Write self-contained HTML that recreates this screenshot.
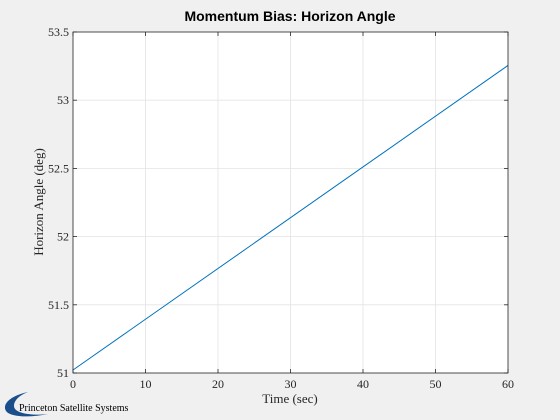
<!DOCTYPE html>
<html><head><meta charset="utf-8"><style>
body{margin:0;background:#f0f0f0;}
svg{display:block;}
.serif{font-family:"Liberation Serif",serif;}
</style></head><body>
<svg id="chart" width="560" height="420" xmlns="http://www.w3.org/2000/svg">
<rect x="0" y="0" width="560" height="420" fill="#f0f0f0"/>
<rect x="73" y="32" width="435" height="341" fill="#fff"/>
<g id="grid"></g>
<g id="ticks"></g>
<path id="line" fill="none" stroke="#0072bd" stroke-width="1"/>
<rect x="73" y="32" width="435" height="341" fill="none" stroke="#262626" stroke-width="0.8"/>
<text x="290" y="21" text-anchor="middle" font-family="Liberation Sans, sans-serif" font-weight="bold" font-size="14" fill="#000">Momentum Bias: Horizon Angle</text>
<text class="serif" font-family="Liberation Serif, serif" x="290" y="403" text-anchor="middle" font-size="13" fill="#262626">Time (sec)</text>
<text class="serif" font-family="Liberation Serif, serif" transform="translate(43,202) rotate(-90)" text-anchor="middle" font-size="13" fill="#262626">Horizon Angle (deg)</text>
<g>
<path d="M28,392 C10,396 2,404 6,411 C10,417 30,418 48,414 C30,416 14,413 14,406 C14,400 20,395 28,392 Z" fill="#1a4f8c"/>
<text class="serif" font-family="Liberation Serif, serif" x="19" y="411" font-size="10" fill="#000">Princeton Satellite Systems</text>
</g>
</svg>
<script>
const xTicks=[0,10,20,30,40,50,60];
const yTicks=[51,51.5,52,52.5,53,53.5];
const yTickLabels=["51","51.5","52","52.5","53","53.5"];
const times=[0,60];
const angles=[51.022,53.255];
const L=73,R=508,T=32,B=373;
const sx=v=>L+(v-0)/(60-0)*(R-L);
const sy=v=>B-(v-51)/(53.5-51)*(B-T);
const NS="http://www.w3.org/2000/svg";
const grid=document.getElementById('grid'),ticks=document.getElementById('ticks');
function mk(tag,attrs,parent){const e=document.createElementNS(NS,tag);for(const k in attrs)e.setAttribute(k,attrs[k]);parent.appendChild(e);return e;}
xTicks.forEach(v=>{
 const x=sx(v);
 const g=mk('line',{x1:x,x2:x,y1:T,y2:B,stroke:'#e3e3e3','stroke-width':0.8},grid);
 
 
 mk('line',{x1:x,x2:x,y1:B,y2:B-4,stroke:'#262626','stroke-width':0.8},ticks);
 mk('line',{x1:x,x2:x,y1:T,y2:T+4,stroke:'#262626','stroke-width':0.8},ticks);
 const t=mk('text',{x:x,y:B+15,'text-anchor':'middle','font-size':12,fill:'#262626','font-family':'Liberation Serif, serif'},ticks);
 t.textContent=v;
 
 
});
yTicks.forEach((v,i)=>{
 const y=sy(v);
 const g=mk('line',{x1:L,x2:R,y1:y,y2:y,stroke:'#e3e3e3','stroke-width':0.8},grid);
 
 
 mk('line',{x1:L,x2:L+4,y1:y,y2:y,stroke:'#262626','stroke-width':0.8},ticks);
 mk('line',{x1:R,x2:R-4,y1:y,y2:y,stroke:'#262626','stroke-width':0.8},ticks);
 const t=mk('text',{x:L-4,y:y+4,'text-anchor':'end','font-size':12,fill:'#262626','font-family':'Liberation Serif, serif'},ticks);
 t.textContent=yTickLabels[i];
 
 
});
document.getElementById('line').setAttribute('d',times.map((t,i)=>(i?'L':'M')+sx(t)+','+sy(angles[i])).join(' '));
</script>
</body></html>
